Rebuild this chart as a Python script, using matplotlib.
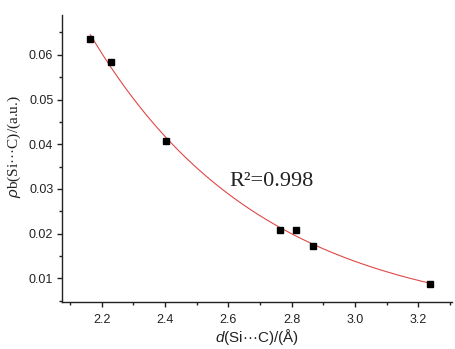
import numpy as np
import matplotlib
matplotlib.use("Agg")
import matplotlib.pyplot as plt
from matplotlib.ticker import MultipleLocator

# data
d_sic = [2.164, 2.228, 2.403, 2.764, 2.814, 2.868, 3.237]
rho_b = [0.0636, 0.0584, 0.0407, 0.0209, 0.0209, 0.0173, 0.0088]
xticks = [2.2, 2.4, 2.6, 2.8, 3.0, 3.2]
yticks = [0.01, 0.02, 0.03, 0.04, 0.05, 0.06]
r2_text = "R\u00b2=0.998"

plt.rcParams['font.family'] = ['Liberation Sans', 'DejaVu Sans']
plt.rcParams['mathtext.fontset'] = 'custom'
plt.rcParams['mathtext.it'] = 'Liberation Sans:italic'
plt.rcParams['mathtext.rm'] = 'Liberation Sans'

fig = plt.figure(figsize=(4.55, 3.49), dpi=100)
ax = fig.add_axes([0.137, 0.1355, 0.856, 0.8215])

# exponential fit of the points (ln y linear in x)
k, b = np.polyfit(d_sic, np.log(rho_b), 1)
xf = np.linspace(min(d_sic), max(d_sic), 200)
ax.plot(xf, np.exp(b + k * xf), color='#e04848', linewidth=0.8, zorder=2)
ax.plot(d_sic, rho_b, 's', color='black', markersize=5, zorder=3)

ax.set_xlim(2.0755, 3.306)
ax.set_ylim(0.0048, 0.0689)
ax.set_xticks(xticks)
ax.set_xticklabels(["%.1f" % v for v in xticks])
ax.set_yticks(yticks)
ax.set_yticklabels(["%.2f" % v for v in yticks])
ax.xaxis.set_minor_locator(MultipleLocator(0.1))
ax.yaxis.set_minor_locator(MultipleLocator(0.005))

for s in ['top', 'right']:
    ax.spines[s].set_visible(False)
for s in ['left', 'bottom']:
    ax.spines[s].set_linewidth(1.0)
    ax.spines[s].set_color('#222222')

ax.tick_params(axis='both', which='major', direction='out', length=3.5, width=1.0,
               labelsize=9, colors='#222222')
ax.tick_params(axis='both', which='minor', direction='out', length=2.2, width=1.0,
               colors='#222222')
ax.tick_params(axis='x', which='major', pad=5)
ax.tick_params(axis='y', which='major', pad=3)

ax.set_xlabel(r"$d$(Si" + "\u00b7\u00b7\u00b7" + "C)/(\u00c5)", fontsize=11, labelpad=1,
              color='#222222')
ax.set_ylabel(r"$\rho$b(Si" + "\u00b7\u00b7\u00b7" + "C)/(a.u.)", fontsize=11,
              family=['Liberation Serif', 'DejaVu Serif'], color='#222222')
ax.yaxis.set_label_coords(-0.10, 0.54)

ax.text(2.602, 0.0307, r2_text, fontsize=16, family=['Liberation Serif', 'DejaVu Serif'],
        ha='left', va='baseline', color='#222222')

fig.savefig("out.png", dpi=100)
